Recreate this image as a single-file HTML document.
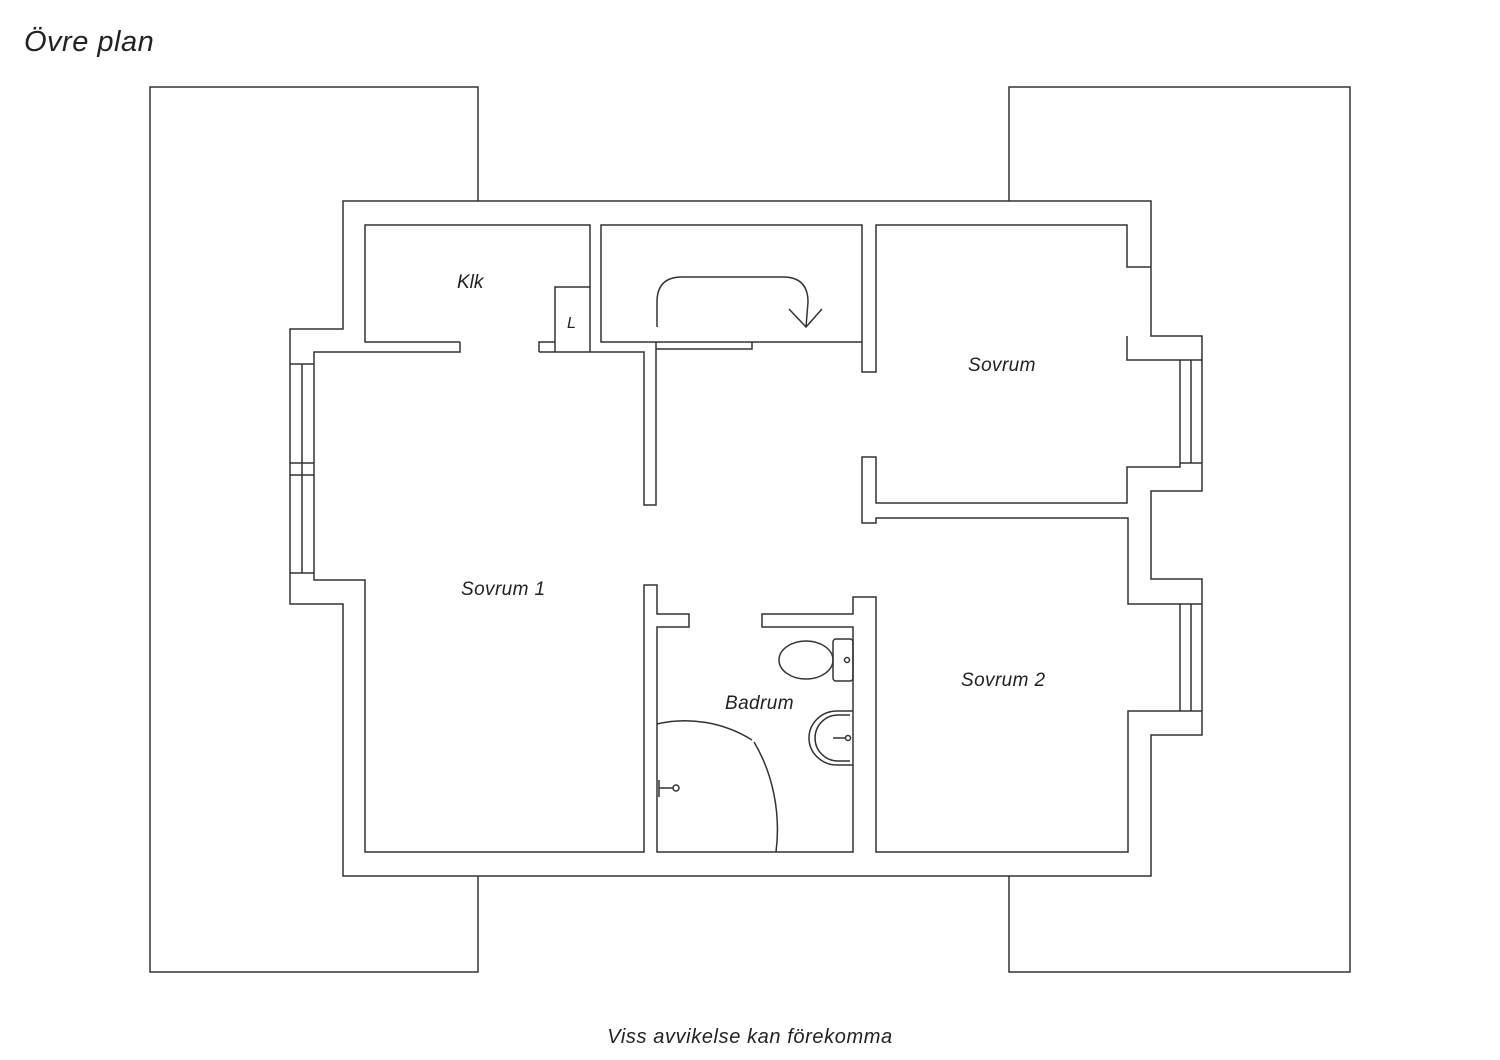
<!DOCTYPE html>
<html><head><meta charset="utf-8"><style>
html,body{margin:0;padding:0;background:#fff;}
svg{display:block;}
text{font-family:"Liberation Sans",sans-serif;font-style:italic;fill:#222;}
</style></head><body>
<svg width="1500" height="1060" viewBox="0 0 1500 1060" xmlns="http://www.w3.org/2000/svg">
<g fill="none" stroke="#333" stroke-width="1.5" stroke-linejoin="miter">
<polyline points="478,201 478,87 150,87 150,972 478,972 478,876"/>
<polyline points="1009,201 1009,87 1350,87 1350,972 1009,972 1009,876"/>
<polygon points="343,201 1151,201 1151,336 1202,336 1202,491 1151,491 1151,579 1202,579 1202,735 1151,735 1151,876 343,876 343,604 290,604 290,329 343,329"/>
<line x1="302" y1="364" x2="302" y2="573"/>
<line x1="290" y1="364" x2="314" y2="364"/>
<line x1="290" y1="463" x2="314" y2="463"/>
<line x1="290" y1="475" x2="314" y2="475"/>
<line x1="290" y1="573" x2="314" y2="573"/>
<polyline points="460,342 460,352 314,352 314,580 365,580 365,852 644,852 644,585 657,585 657,614 689,614 689,627 657,627 657,852 853,852 853,627 762,627 762,614 853,614 853,597 876,597 876,852 1128,852 1128,711 1180,711 1180,604 1128,604 1128,518 876,518 876,523 862,523 862,457 876,457 876,503 1127,503 1127,467 1180,467 1180,463"/>
<line x1="1180" y1="360" x2="1180" y2="463"/>
<line x1="1191" y1="360" x2="1191" y2="463"/>
<line x1="1180" y1="463" x2="1202" y2="463"/>
<line x1="1180" y1="360" x2="1202" y2="360"/>
<polyline points="1180,360 1127,360 1127,336"/>
<line x1="1191" y1="604" x2="1191" y2="711"/>
<line x1="1180" y1="604" x2="1202" y2="604"/>
<line x1="1180" y1="711" x2="1202" y2="711"/>
<polyline points="1151,267 1127,267 1127,225 876,225 876,372 862,372 862,225 601,225 601,342 862,342"/>
<polyline points="590,352 590,225 365,225 365,342 460,342"/>
<polyline points="539,352 539,342 555,342"/>
<polyline points="555,352 555,287 590,287"/>
<polyline points="539,352 644,352 644,505 656,505 656,342"/>
<polyline points="656,349 752,349 752,342"/>
<path d="M657,327 L657,302 Q657,277 682,277 L783,277 Q808,277 808,302 L806,327"/>
<polyline points="789,309 806,327 822,309"/>
<rect x="833" y="639" width="20" height="42" rx="3"/>
<ellipse cx="806" cy="660" rx="27" ry="19"/>
<circle cx="847" cy="660" r="2.5"/>
<path d="M853,711 L837,711 A28,27 0 0 0 837,765 L853,765"/>
<path d="M850,715 L838,715 A23,23 0 0 0 838,761 L850,761"/>
<line x1="833" y1="738" x2="846" y2="738"/>
<circle cx="848" cy="738" r="2.5"/>
<path d="M657,724 A130,135 0 0 1 752,740"/>
<path d="M754,742 A125,150 0 0 1 776,852"/>
<line x1="659" y1="780" x2="659" y2="797"/>
<line x1="659" y1="788" x2="673" y2="788"/>
<circle cx="676" cy="788" r="3"/>
</g>
<text x="24" y="51" font-size="29" letter-spacing="0.5">Övre plan</text>
<text x="457" y="288" font-size="19">Klk</text>
<text x="567" y="328" font-size="16">L</text>
<text x="968" y="371" font-size="19" letter-spacing="0.4">Sovrum</text>
<text x="461" y="595" font-size="19" letter-spacing="0.4">Sovrum 1</text>
<text x="725" y="709" font-size="19" letter-spacing="0.4">Badrum</text>
<text x="961" y="686" font-size="19" letter-spacing="0.4">Sovrum 2</text>
<text x="750" y="1043" font-size="20" letter-spacing="0.6" text-anchor="middle">Viss avvikelse kan förekomma</text>
</svg>
</body></html>
